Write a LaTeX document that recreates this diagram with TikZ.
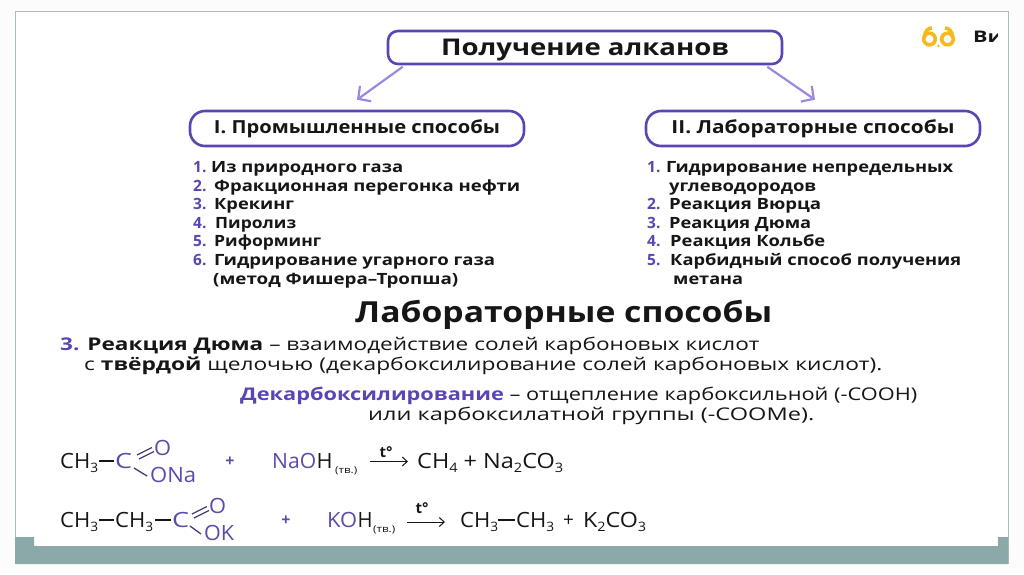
\documentclass[tikz,border=0pt]{standalone}
\usepackage{fontspec}
\usepackage{graphicx}
\setmainfont{Open Sans}
\newfontfamily\chemfont{Open Sans}
\usetikzlibrary{calc,arrows.meta}
\definecolor{vio}{HTML}{5B45B5}
\definecolor{lil}{HTML}{9C88DE}
\definecolor{band}{HTML}{8CA9A9}
\definecolor{framec}{HTML}{A9BEBE}
\definecolor{gold}{HTML}{F5B91E}
\definecolor{chemv}{HTML}{5F4AA8}
\definecolor{ink}{HTML}{161616}
\newcommand\fitw[2]{\resizebox{#1pt}{\height}{#2}}
\newcommand\nm[1]{{\color{vio}#1}}
\newcommand\st[1]{\raisebox{-4pt}{\fontsize{13}{13}\selectfont #1}}
\tikzset{
  x=1pt,y=-1pt,
  hdr/.style={draw=vio,line width=2.6pt,fill=white,text=ink,inner sep=0pt,font=\fontsize{18}{18}\selectfont\bfseries},
  li/.style={anchor=base west,inner sep=0pt,text=ink,font=\fontsize{15.5}{15.5}\selectfont\bfseries},
  body/.style={anchor=base west,inner sep=0pt,text=ink,font=\fontsize{17.5}{17.5}\selectfont},
  chem/.style={anchor=base west,inner sep=0pt,text=ink,font=\chemfont\fontsize{21}{21}\selectfont},
  chemp/.style={chem,text=chemv},
  tv/.style={anchor=base west,inner sep=0pt,text=ink,font=\chemfont\fontsize{9.5}{9.5}\selectfont},
  tee/.style={anchor=base,inner sep=0pt,text=ink,font=\chemfont\fontsize{15}{15}\selectfont\bfseries},
  bond/.style={line width=1.3pt,draw=ink},
  bondp/.style={line width=1.3pt,draw=chemv!70!ink},
  goarrow/.style={draw=lil,line width=2.2pt,-{Straight Barb[length=9pt,width=19pt,line width=2.2pt]}},
  rxn/.style={draw=ink,line width=1pt,-{Straight Barb[length=5pt,width=9pt,line width=1pt]}},
}
\begin{document}
\begin{tikzpicture}
\useasboundingbox (0,0) rectangle (1024,574);
\fill[white!98!gray] (0,0) rectangle (1024,574);
% slide frame
\fill[white] (15,11) rectangle (1008,564);
\draw[framec,line width=1pt] (15,564) -- (15,11) -- (1008,11) -- (1008,564);
\fill[band] (15,537) -- (34,537) -- (34,546) -- (998,546) -- (998,537) -- (1008,537) -- (1008,564) -- (15,564) -- cycle;
% logo
\begin{scope}[gold,line width=3.6pt]
\draw (929.5,39) circle (5.8);
\draw (947.5,39) circle (5.8);
\draw (924.5,37) .. controls (925,31) and (928,28) .. (932,28);
\draw (952.5,37) .. controls (952,31) and (949,28) .. (945,28);
\fill (938.5,46) circle (1.4);
\end{scope}
\begin{scope}
\clip (960,20) rectangle (997,50);
\node[anchor=base west,inner sep=0pt,text=ink,font=\fontsize{16}{16}\selectfont\bfseries] (logotext) at (973,42.5) {\fitw{30}{Ви}};
\end{scope}
% headers
\node[hdr,rounded corners=10pt,minimum width=394pt,minimum height=33pt,font=\fontsize{23}{23}\selectfont\bfseries] (title) at (585,47.5) {\raisebox{-7.5pt}[0pt][0pt]{\fitw{288}{Получение алканов}}};
\node[hdr,rounded corners=15pt,minimum width=334pt,minimum height=35pt] (boxI) at (357,128.5) {\fitw{286}{I. Промышленные способы}};
\node[hdr,rounded corners=15pt,minimum width=334pt,minimum height=35pt] (boxII) at (813,128.5) {\fitw{283}{II. Лабораторные способы}};
\draw[goarrow] ($(title.south west)+(16,1.5)$) -- ($(boxI.north)+(0,-10)$);
\draw[goarrow] ($(title.south east)+(-16,1.5)$) -- ($(boxII.north)+(2,-10)$);
% left list
\node[li] (l1n) at (193,172.5) {\nm{1.}};
\node[li] (l1) at (211,172.5) {\fitw{192}{Из природного газа}};
\node[li] (l2n) at (193,191.5) {\nm{2.}};
\node[li] (l2) at (214,191.5) {\fitw{306}{Фракционная перегонка нефти}};
\node[li] (l3n) at (193,209.5) {\nm{3.}};
\node[li] (l3) at (214,209.5) {\fitw{80}{Крекинг}};
\node[li] (l4n) at (193,228.5) {\nm{4.}};
\node[li] (l4) at (215,228.5) {\fitw{81}{Пиролиз}};
\node[li] (l5n) at (193,246.5) {\nm{5.}};
\node[li] (l5) at (214,246.5) {\fitw{107}{Риформинг}};
\node[li] (l6n) at (193,265.5) {\nm{6.}};
\node[li] (l6) at (214,265.5) {\fitw{281}{Гидрирование угарного газа}};
\node[li] (l7) at (213,284.5) {\fitw{245}{(метод Фишера–Тропша)}};
% right list
\node[li] (r1n) at (647,172.5) {\nm{1.}};
\node[li] (r1) at (666,172.5) {\fitw{287}{Гидрирование непредельных}};
\node[li] (r2) at (669,191.5) {\fitw{147}{углеводородов}};
\node[li] (r3n) at (647,209.5) {\nm{2.}};
\node[li] (r3) at (669,209.5) {\fitw{152}{Реакция Вюрца}};
\node[li] (r4n) at (647,228.5) {\nm{3.}};
\node[li] (r4) at (669,228.5) {\fitw{142}{Реакция Дюма}};
\node[li] (r5n) at (647,246.5) {\nm{4.}};
\node[li] (r5) at (670,246.5) {\fitw{155}{Реакция Кольбе}};
\node[li] (r6n) at (647,265.5) {\nm{5.}};
\node[li] (r6) at (670,265.5) {\fitw{291}{Карбидный способ получения}};
\node[li] (r7) at (673,284.5) {\fitw{70}{метана}};
% heading
\node[anchor=base west,inner sep=0pt,text=ink,font=\fontsize{29}{29}\selectfont\bfseries] (labh) at (355,322) {\fitw{417}{Лабораторные способы}};
% paragraph
\node[body] (p1) at (60,350) {\fitw{699}{\textbf{\nm{3.} Реакция Дюма} – взаимодействие солей карбоновых кислот}};
\node[body] (p2) at (84,370) {\fitw{798}{с \textbf{твёрдой} щелочью (декарбоксилирование солей карбоновых кислот).}};
\node[body] (p3) at (240,400) {\fitw{677}{\textbf{\nm{Декарбоксилирование}} – отщепление карбоксильной (-COOH)}};
\node[body] (p4) at (368,420) {\fitw{446}{или карбоксилатной группы (-COOMe).}};
% reaction 1
\node[chem] (a1) at (60,468.5) {\fitw{38}{CH\st{3}}};
\node[chemp] (a2) at (115,468.5) {\fitw{17}{C}};
\draw[bond] (99,461) -- (114,461);
\node[chemp] (a3) at (154,455) {\fitw{17}{O}};
\draw[bondp] (137,455) -- (152,447.5);
\draw[bondp] (139,459) -- (154,451.5);
\node[chemp] (a4) at (150,482.5) {\fitw{46}{ONa}};
\draw[bondp] (134,468) -- (147,476);
\node[chemp,anchor=base,font=\chemfont\fontsize{16}{16}\selectfont\bfseries] (a5) at (230,466.5) {+};
\node[chemp] (a6) at (272,468.5) {\fitw{44}{NaO}};
\node[chem] (a7) at (a6.base east) {\fitw{16}{H}};
\node[tv] (a8) at (335,473) {\fitw{22}{(тв.)}};
\node[tee] (a9) at (386,457) {t°};
\coordinate (a10) at (370,461.5);
\coordinate (a11) at (408,461.5);
\draw[rxn] (a10) -- (a11);
\node[chem] (a12) at (417,468.5) {\fitw{146}{CH\st{4} + Na\st{2}CO\st{3}}};
% reaction 2
\node[chem] (b1) at (60,527.5) {\fitw{38}{CH\st{3}}};
\node[chem] (b2) at (115,527.5) {\fitw{38}{CH\st{3}}};
\node[chemp] (b3) at (172,527.5) {\fitw{17}{C}};
\draw[bond] (99,520) -- (114,520);
\draw[bond] (155,520) -- (171,520);
\node[chemp] (b4) at (209,513.5) {\fitw{17}{O}};
\draw[bondp] (192,514) -- (207,506.5);
\draw[bondp] (194,518) -- (209,510.5);
\node[chemp] (b5) at (204,540.5) {\fitw{30}{OK}};
\draw[bondp] (190,526) -- (201,534);
\node[chemp,anchor=base,font=\chemfont\fontsize{16}{16}\selectfont\bfseries] (b6) at (286,525.5) {+};
\node[chemp] (b7) at (327,527.5) {\fitw{30}{KO}};
\node[chem] (b8) at (b7.base east) {\fitw{15}{H}};
\node[tv] (b9) at (373,532) {\fitw{22}{(тв.)}};
\node[tee] (b10) at (422,513) {t°};
\coordinate (b11) at (407,522);
\coordinate (b12) at (445,522);
\draw[rxn] (b11) -- (b12);
\node[chem] (b13) at (460,527.5) {\fitw{38}{CH\st{3}}};
\node[chem] (b14) at (516,527.5) {\fitw{38}{CH\st{3}}};
\draw[bond] (498,520) -- (515,520);
\node[chem,font=\chemfont\fontsize{19}{19}\selectfont] (b15) at (563,526.5) {+};
\node[chem] (b16) at (583,527.5) {\fitw{63}{K\st{2}CO\st{3}}};
\end{tikzpicture}
\end{document}
